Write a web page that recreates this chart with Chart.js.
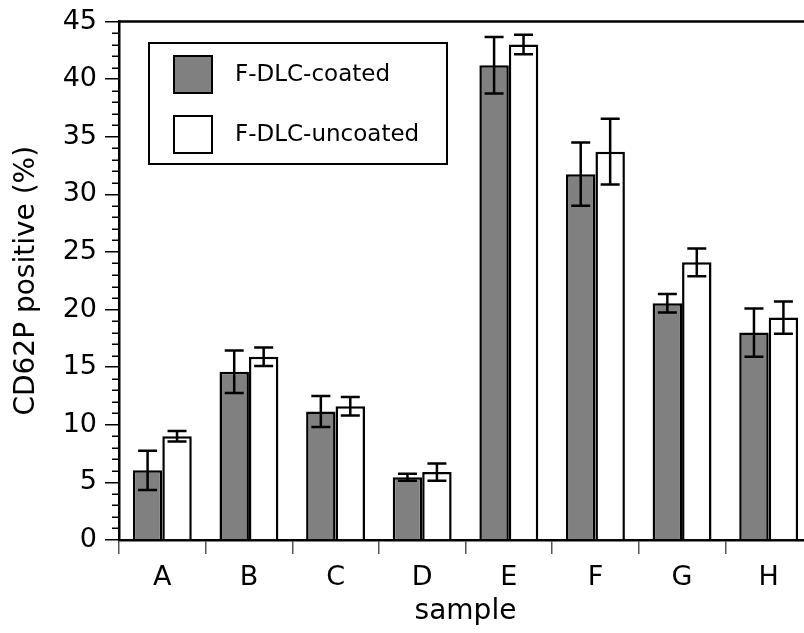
<!DOCTYPE html>
<html>
<head>
<meta charset="utf-8">
<script src="https://cdn.jsdelivr.net/npm/chart.js@4.4.1/dist/chart.umd.min.js"></script>
<style>
  html, body { margin: 0; padding: 0; background: #fff; overflow: hidden; }
  #wrap { width: 830px; height: 633px; }
</style>
</head>
<body>
<div id="wrap"><canvas id="chart" width="830" height="633"></canvas></div>
<script>
// CD62P positive (%) per sample, mean and error
const samples = ['A', 'B', 'C', 'D', 'E', 'F', 'G', 'H']
const coated = [6.05, 14.6, 11.15, 5.45, 41.2, 31.75, 20.55, 18.0]
const coatedErr = [1.7, 1.85, 1.35, 0.3, 2.45, 2.75, 0.8, 2.1]
const uncoated = [9.0, 15.9, 11.6, 5.9, 43.0, 33.7, 24.1, 19.3]
const uncoatedErr = [0.45, 0.8, 0.8, 0.75, 0.85, 2.85, 1.2, 1.4]
const yTicks = [0, 5, 10, 15, 20, 25, 30, 35, 40, 45]

const FONT = '"DejaVu Sans", sans-serif'

// error bars, minor ticks, top frame and the inset legend
const extras = {
  id: 'extras',
  afterDatasetsDraw(chart) {
    const ctx = chart.ctx
    const y = chart.scales.y
    const area = chart.chartArea
    ctx.save()
    ctx.strokeStyle = '#000'
    ctx.lineWidth = 2.5
    const errs = [coatedErr, uncoatedErr]
    chart.data.datasets.forEach((ds, i) => {
      chart.getDatasetMeta(i).data.forEach((bar, j) => {
        const v = ds.data[j]
        const top = y.getPixelForValue(v + errs[i][j])
        const bot = y.getPixelForValue(v - errs[i][j])
        const cap = 9.5
        ctx.beginPath()
        ctx.moveTo(bar.x, top); ctx.lineTo(bar.x, bot)
        ctx.moveTo(bar.x - cap, top); ctx.lineTo(bar.x + cap, top)
        ctx.moveTo(bar.x - cap, bot); ctx.lineTo(bar.x + cap, bot)
        ctx.stroke()
      })
    })

    // minor ticks on y
    ctx.lineWidth = 1.5
    ctx.beginPath()
    for (let v = 0; v <= 45; v++) {
      if (v % 5 === 0) continue
      const py = Math.round(y.getPixelForValue(v)) + 0.25
      ctx.moveTo(area.left - 7, py); ctx.lineTo(area.left, py)
    }
    ctx.stroke()

    // top frame
    ctx.lineWidth = 2.5
    ctx.beginPath()
    ctx.moveTo(area.left, area.top); ctx.lineTo(area.right, area.top)
    ctx.lineTo(area.right, area.bottom)
    ctx.stroke()

    // legend box
    const lx = 149, ly = 43, lw = 298, lh = 121
    ctx.fillStyle = '#fff'
    ctx.fillRect(lx, ly, lw, lh)
    ctx.lineWidth = 2
    ctx.strokeRect(lx, ly, lw, lh)
    ctx.font = '23px ' + FONT
    ctx.textBaseline = 'middle'
    chart.data.datasets.forEach((ds, i) => {
      const sy = 56 + i * 60
      ctx.fillStyle = ds.backgroundColor
      ctx.fillRect(174, sy, 38, 37)
      ctx.strokeRect(174, sy, 38, 37)
      ctx.fillStyle = '#000'
      ctx.fillText(ds.label, 235, sy + 19)
    })
    ctx.restore()
  }
}

new Chart(document.getElementById('chart'), {
  type: 'bar',
  data: {
    labels: samples,
    datasets: [
      { label: 'F-DLC-coated', data: coated, backgroundColor: '#808080', borderColor: '#000', borderWidth: 2.5 },
      { label: 'F-DLC-uncoated', data: uncoated, backgroundColor: '#ffffff', borderColor: '#000', borderWidth: 2.5 }
    ]
  },
  options: {
    responsive: false,
    animation: false,
    layout: { padding: { top: 20, right: 18, left: 0, bottom: 0 } },
    datasets: { bar: { barPercentage: 1, categoryPercentage: 0.68 } },
    plugins: { legend: { display: false }, tooltip: { enabled: false } },
    scales: {
      x: {
        grid: { offset: true, drawOnChartArea: false, drawTicks: true, tickLength: 14, tickColor: '#555', lineWidth: 1.5 },
        border: { color: '#000', width: 2.5 },
        ticks: { color: '#000', font: { family: FONT, size: 27 }, padding: 8 },
        title: { display: true, text: 'sample', color: '#000', font: { family: FONT, size: 28 }, padding: { top: 0, bottom: 4 } },
        afterFit: (s) => { s.height = 93 }
      },
      y: {
        min: 0,
        max: 45,
        afterBuildTicks: (s) => { s.ticks = yTicks.map(v => ({ value: v })) },
        grid: { drawOnChartArea: false, drawTicks: true, tickLength: 14, tickColor: '#000', lineWidth: 1.5 },
        border: { color: '#000', width: 2.5 },
        ticks: { color: '#000', font: { family: FONT, size: 27, lineHeight: 1 }, padding: 8 },
        title: { display: true, text: 'CD62P positive (%)', color: '#000', font: { family: FONT, size: 28 }, padding: { top: 10, bottom: 0 } },
        afterFit: (s) => { s.width = 119 }
      }
    }
  },
  plugins: [extras]
})
</script>
</body>
</html>
